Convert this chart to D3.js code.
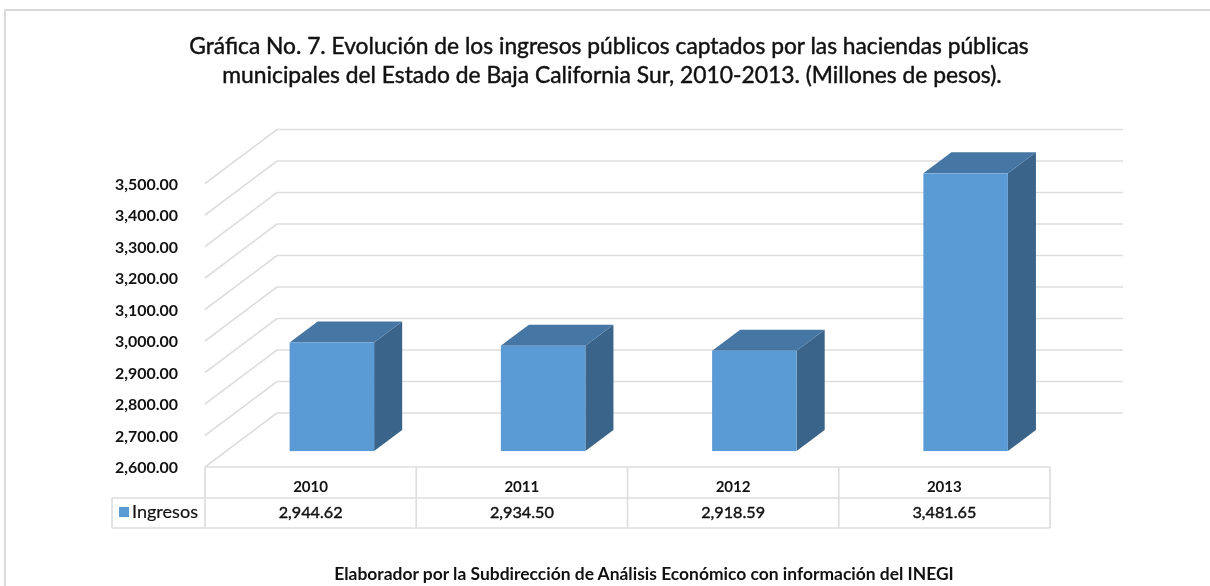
<!DOCTYPE html>
<html><head><meta charset="utf-8">
<script src="https://cdn.jsdelivr.net/npm/d3@7/dist/d3.min.js"></script>
<style>
html,body{margin:0;padding:0;background:#fff}
svg{display:block;filter:blur(0.35px)}
text{font-family:Lato,"Open Sans",sans-serif;fill:#111}
</style></head><body>
<script>
const categories = ["2010","2011","2012","2013"];
const ingresos = [2944.62,2934.50,2918.59,3481.65];
const ingresosLabels = ["2,944.62","2,934.50","2,918.59","3,481.65"];
const seriesName = "Ingresos";
const yTicks = [2600,2700,2800,2900,3000,3100,3200,3300,3400,3500];
const titleLines = ["Gráfica No. 7. Evolución de los ingresos públicos captados por las haciendas públicas",
 "municipales del Estado de Baja California Sur, 2010-2013. (Millones de pesos)."];
const footnote = "Elaborador por la Subdirección de Análisis Económico con información del INEGI";

const W=1210,H=586;
const svg=d3.select("body").append("svg").attr("width",W).attr("height",H);
const y=d3.scaleLinear().domain([2600,3500]).range([467,183.5]);
const x=d3.scaleBand().domain(categories).range([205,1050]);
const fmt=d3.format(",.2f");
const DX=72,DY=54;
const grid="#dedede";
const L=(a,b,c,d,col=grid,w=1.7)=>svg.append("line").attr("x1",a).attr("y1",b).attr("x2",c).attr("y2",d).attr("stroke",col).attr("stroke-width",w);
// text helper: font size is fitted so the string spans the wanted width
function T(str,px,py,anchor,weight,width,stroke=0){
  const t=svg.append("text").attr("x",px).attr("y",py).attr("text-anchor",anchor)
    .style("font-weight",weight).style("font-size","20px").text(str);
  const len=t.node().getComputedTextLength();
  t.style("font-size",(20*width/len).toFixed(2)+"px");
  if(stroke) t.style("stroke","#111").style("stroke-width",stroke);
  return t;
}

// frame
svg.append("path").attr("d","M5,586V10H1210").attr("fill","none").attr("stroke","#dadada").attr("stroke-width",2);

// title
T(titleLines[0],609,54,"middle",400,840,0.45);
T(titleLines[1],612,83,"middle",400,780,0.45);

// gridlines
yTicks.forEach(v=>{
  const yy=y(v);
  L(205,yy,205+DX,yy-DY);
  L(205+DX,yy-DY,1123,yy-DY);
  T(fmt(v),178,yy+6,"end",700,63);
});

// bars
const f=0.295, d=0.39;
categories.forEach((c,i)=>{
  const barW=84.5, x0=x(c)+x.bandwidth()/2-barW/2+DX*f;
  const yb=y(2600)-DY*f, yt=y(ingresos[i])-DY*f;
  const ddx=DX*d, ddy=DY*d;
  svg.append("polygon").attr("fill","#3a6489")
    .attr("points",[[x0+barW,yt],[x0+barW+ddx,yt-ddy],[x0+barW+ddx,yb-ddy],[x0+barW,yb]].join(" "));
  svg.append("polygon").attr("fill","#4676a3")
    .attr("points",[[x0,yt],[x0+ddx,yt-ddy],[x0+barW+ddx,yt-ddy],[x0+barW,yt]].join(" "));
  svg.append("rect").attr("x",x0).attr("y",yt).attr("width",barW).attr("height",yb-yt).attr("fill","#5b9bd5");
});

// data table
const r0=467,r1=498,r2=528,lx=112;
L(205,r0,1050,r0); L(lx,r1,1050,r1); L(lx,r2,1050,r2);
L(lx,r1,lx,r2);
categories.forEach(c=>L(x(c),r0,x(c),r2));
L(1050,r0,1050,r2);
categories.forEach((c,i)=>{
  const cx=x(c)+x.bandwidth()/2;
  T(c,cx,492,"middle",700,35);
  T(ingresosLabels[i],cx,517.5,"middle",400,64,0.4);
});
svg.append("rect").attr("x",119).attr("y",507).attr("width",10).attr("height",10).attr("fill","#5b9bd5");
T(seriesName,132,517.5,"start",400,66,0.2);

// footnote
T(footnote,644,580,"middle",700,620);
</script></body></html>
